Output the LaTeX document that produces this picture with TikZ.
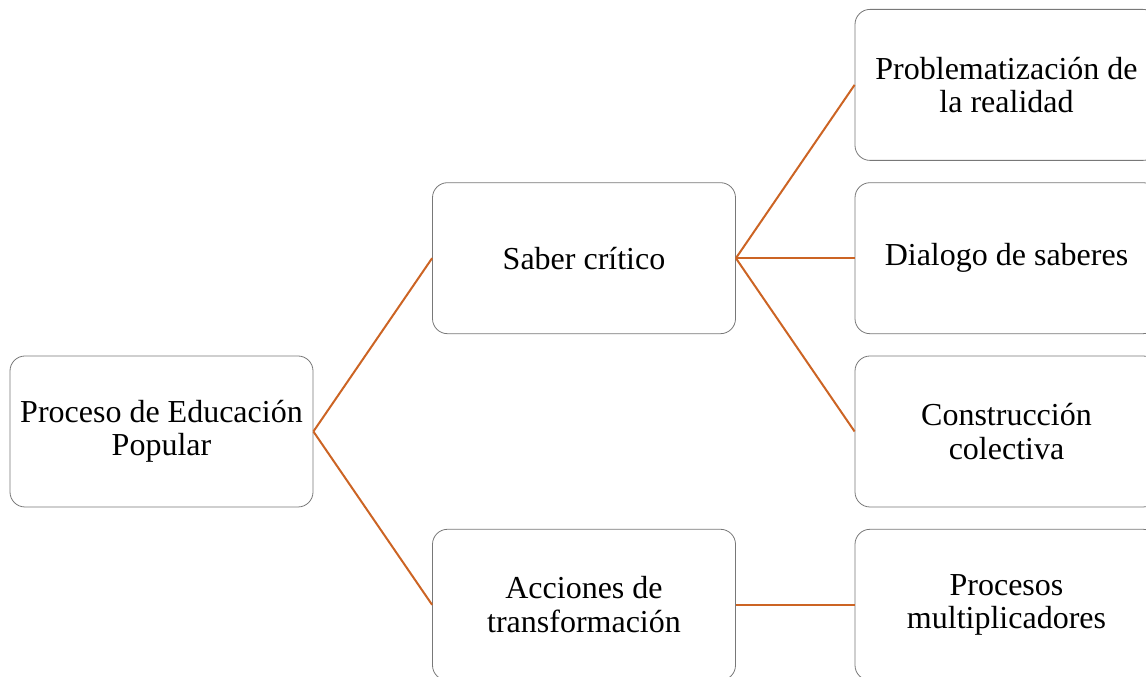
\documentclass[tikz,border=0pt]{standalone}
\usepackage{fontspec}
\setmainfont{Liberation Serif}
\usetikzlibrary{positioning}
\definecolor{linkorange}{RGB}{204,100,36}
\definecolor{boxgray}{RGB}{120,120,120}

\begin{document}
\begin{tikzpicture}[node distance=173.3pt and 422.5pt,on grid,
   box/.style={draw=boxgray,line width=0.8pt,rounded corners=15pt,
     minimum width=303pt,minimum height=151pt,align=center,
     font=\fontsize{32}{33.5}\selectfont}]
   \useasboundingbox (0,0) rectangle (1146pt,677pt);
   \node[box] (root) at (161.5pt,245.5pt) {Proceso de Educación\\Popular};
   \node[box] (saber) [above right=of root] {Saber crítico};
   \node[box] (acciones) [below right=of root] {Acciones de\\transformación};
   \node[box] (dialogo) [right=of saber] {Dialogo de saberes};
   \node[box] (problema) [above=of dialogo] {Problematización de\\la realidad};
   \node[box] (construccion) [below=of dialogo] {Construcción\\colectiva};
   \node[box] (procesos) [right=of acciones] {Procesos\\multiplicadores};
    \path[draw=linkorange,line width=2pt]
    (root.east) edge (saber.west)
                edge (acciones.west)
    (saber.east) edge (problema.west)
                 edge (dialogo.west)
                 edge (construccion.west)
    (acciones.east) edge (procesos.west);
\end{tikzpicture}
\end{document}
